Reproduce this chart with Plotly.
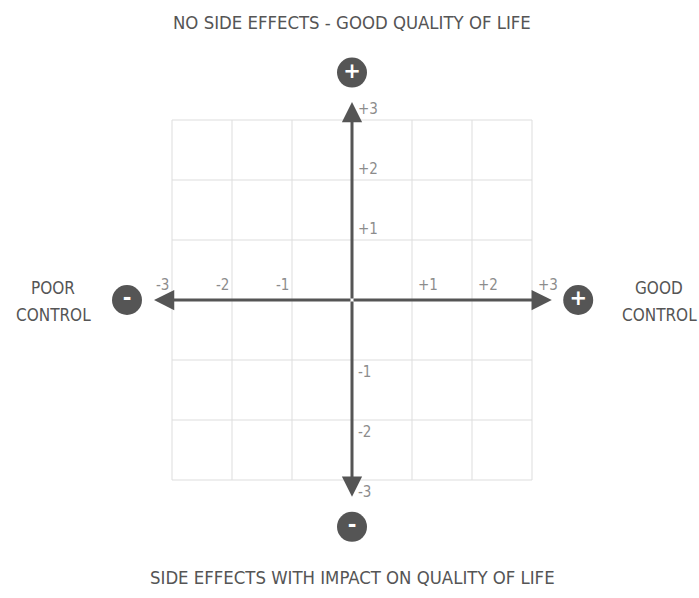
import plotly.graph_objects as go

# ---- data ----
grid_values = [-3, -2, -1, 0, 1, 2, 3]
x_tick_values = [-3, -2, -1, 1, 2, 3]
x_tick_labels = ["-3", "-2", "-1", "+1", "+2", "+3"]
y_tick_values = [3, 2, 1, -1, -2, -3]
y_tick_labels = ["+3", "+2", "+1", "-1", "-2", "-3"]
top_label = "NO SIDE EFFECTS - GOOD QUALITY OF LIFE"
bottom_label = "SIDE EFFECTS WITH IMPACT ON QUALITY OF LIFE"
left_label_lines = ["POOR", "CONTROL"]
right_label_lines = ["GOOD", "CONTROL"]
badge_x = [0, 0, -3.75, 3.77]
badge_y = [3.79, -3.78, 0, 0]
badge_text = ["<b>+</b>", "<b>-</b>", "<b>-</b>", "<b>+</b>"]

FONT = "DejaVu Sans Condensed, Liberation Sans Narrow, sans-serif"
AX = "#555555"
GRID = "#dddddd"
LBL = "#8c8c8c"

W, H = 699, 598
x0px, y0px, unit = 352, 300, 60.0
xr = [(0 - x0px) / unit, (W - x0px) / unit]
yr = [-(H - y0px) / unit, y0px / unit]

fig = go.Figure()

shapes = []
for v in grid_values:
    if v == 0:
        continue
    shapes.append(dict(type="line", x0=v, x1=v, y0=-3, y1=3, line=dict(color=GRID, width=1), layer="below"))
    shapes.append(dict(type="line", x0=-3, x1=3, y0=v, y1=v, line=dict(color=GRID, width=1), layer="below"))

annotations = []
for (tx, ty) in [(-3.3, 0), (3.33, 0), (0, 3.3), (0, -3.28)]:
    annotations.append(dict(x=tx, y=ty, ax=0, ay=0, xref="x", yref="y", axref="x", ayref="y",
                            showarrow=True, arrowhead=2, arrowsize=1.35, arrowwidth=3,
                            arrowcolor=AX, text=""))

tick_font = dict(family=FONT, size=15, color=LBL)
for v, t in zip(x_tick_values, x_tick_labels):
    annotations.append(dict(x=v, y=0, xref="x", yref="y", text=t, showarrow=False,
                            xanchor="right" if v < 0 else "left", yanchor="bottom",
                            xshift=-1 if v < 0 else 4, yshift=4, font=tick_font))
for v, t in zip(y_tick_values, y_tick_labels):
    annotations.append(dict(x=0, y=v, xref="x", yref="y", text=t, showarrow=False,
                            xanchor="left", yanchor="bottom" if v > 0 else "top",
                            xshift=4, yshift=0 if v > 0 else -1, font=tick_font))

title_font = dict(family=FONT, size=18.4, color="#555555")
side_font = dict(family=FONT, size=17, color="#555555")
annotations.append(dict(x=0, y=4.63, xref="x", yref="y", text=top_label, showarrow=False, font=title_font))
annotations.append(dict(x=0, y=-4.63, xref="x", yref="y", text=bottom_label, showarrow=False, font=title_font))
for i, t in enumerate(left_label_lines):
    annotations.append(dict(x=-4.98, y=0.2 - 0.45 * i, xref="x", yref="y", text=t,
                            showarrow=False, font=side_font))
for i, t in enumerate(right_label_lines):
    annotations.append(dict(x=5.12, y=0.2 - 0.45 * i, xref="x", yref="y", text=t,
                            showarrow=False, font=side_font))

fig.add_trace(go.Scatter(
    x=badge_x, y=badge_y, mode="markers+text", text=badge_text,
    textposition="middle center",
    marker=dict(size=30, color=AX, line=dict(width=0)),
    textfont=dict(family="DejaVu Sans, sans-serif", size=21, color="white"),
    hoverinfo="skip", showlegend=False, cliponaxis=False,
))

fig.update_layout(
    width=W, height=H,
    margin=dict(l=0, r=0, t=0, b=0),
    paper_bgcolor="white", plot_bgcolor="white",
    xaxis=dict(range=xr, visible=False, fixedrange=True),
    yaxis=dict(range=yr, visible=False, fixedrange=True),
    shapes=shapes, annotations=annotations,
)

fig.write_html("out.html", config={"displayModeBar": False},
               post_script="document.body.style.margin='0';document.body.style.overflow='hidden';")
